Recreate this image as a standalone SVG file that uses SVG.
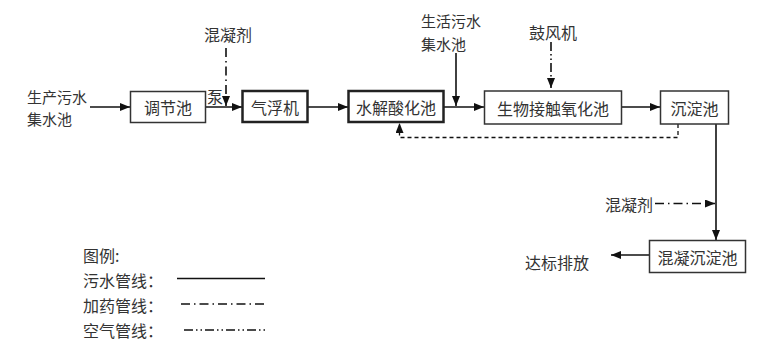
<svg xmlns="http://www.w3.org/2000/svg" width="781" height="352" viewBox="0 0 781 352">
<style>
text{font-family:"Noto Sans CJK SC","Noto Sans",sans-serif;font-size:16px;fill:#333;dominant-baseline:central}
.s{font-size:15px}
.c{text-anchor:middle}
.box{fill:#fff;stroke:#333;stroke-width:1.5}
.thick{stroke-width:2.5;stroke:#222}
.ln{fill:none;stroke:#111;stroke-width:1.6}
.dd{fill:none;stroke:#111;stroke-width:1.6;stroke-dasharray:9 4 1.5 4}
.ddd{fill:none;stroke:#111;stroke-width:1.6;stroke-dasharray:9 3 1.5 3 1.5 3}
.ds{fill:none;stroke:#111;stroke-width:1.3;stroke-dasharray:4 3}
</style>
<defs>
<marker id="ah" viewBox="0 0 10 8" refX="10" refY="4" markerWidth="10" markerHeight="8" markerUnits="userSpaceOnUse" orient="auto">
<path d="M0,0 L10,4 L0,8 Z" fill="#111"/>
</marker>
</defs>
<g id="connectors">
<line class="ln" x1="90" y1="107" x2="130" y2="107" marker-end="url(#ah)"/>
<line class="ln" x1="205" y1="107" x2="242" y2="107" marker-end="url(#ah)"/>
<line class="dd" x1="226" y1="48" x2="226" y2="106" marker-end="url(#ah)"/>
<line class="ln" x1="308" y1="107" x2="348" y2="107" marker-end="url(#ah)"/>
<line class="ln" x1="456" y1="53" x2="456" y2="106" marker-end="url(#ah)"/>
<line class="ln" x1="443" y1="107" x2="484" y2="107" marker-end="url(#ah)"/>
<line class="ddd" x1="551" y1="42" x2="551" y2="88" marker-end="url(#ah)"/>
<line class="ln" x1="622" y1="107" x2="660" y2="107" marker-end="url(#ah)"/>
<path class="ds" d="M678,124 V137.5 H399.5 V123" marker-end="url(#ah)"/>
<line class="ln" x1="716" y1="124" x2="716" y2="240" marker-end="url(#ah)"/>
<line class="dd" x1="655" y1="203.5" x2="715" y2="203.5" marker-end="url(#ah)"/>
<line class="ln" x1="649" y1="255" x2="611" y2="255" marker-end="url(#ah)"/>
</g>
<g id="n-prod"><text class="s" x="27" y="96">生产污水</text><text class="s" x="27" y="118.5">集水池</text></g>
<g id="n-tiaojie"><rect class="box" x="130.5" y="91.5" width="75" height="31"/><text class="c" x="168" y="107">调节池</text></g>
<g id="n-hunning1"><text class="c" x="228" y="34">混凝剂</text></g>
<g id="n-beng"><text x="207" y="96">泵</text></g>
<g id="n-qifu"><rect class="box thick" x="242.5" y="91" width="65" height="31"/><text class="c" x="275" y="107">气浮机</text></g>
<g id="n-shuijie"><rect class="box thick" x="348.5" y="91" width="95" height="31"/><text class="c" x="396" y="107">水解酸化池</text></g>
<g id="n-life"><text class="s" x="421" y="20.5">生活污水</text><text class="s" x="421" y="43">集水池</text></g>
<g id="n-gufeng"><text class="c" x="553" y="31.5">鼓风机</text></g>
<g id="n-shengwu"><rect class="box" x="484.5" y="91" width="137" height="33"/><text class="c" x="553" y="107.5">生物接触氧化池</text></g>
<g id="n-chendian"><rect class="box" x="660.5" y="91" width="68" height="33"/><text class="c" x="694.5" y="107.5">沉淀池</text></g>
<g id="n-hunning2"><text x="605" y="203.5">混凝剂</text></g>
<g id="n-hncd"><rect class="box" x="649.5" y="240.5" width="96" height="32"/><text class="c" x="697.5" y="256.5">混凝沉淀池</text></g>
<g id="n-dabiao"><text x="525" y="261.5">达标排放</text></g>
<g id="legend">
<text x="83" y="255">图例:</text>
<text x="83" y="280">污水管线：</text>
<line class="ln" x1="177" y1="278.5" x2="265" y2="278.5" stroke-width="1.2"/>
<text x="83" y="305">加药管线：</text>
<line class="dd" x1="181" y1="304" x2="268" y2="304" stroke-width="1.2"/>
<text x="83" y="330">空气管线：</text>
<line class="ddd" x1="184" y1="330" x2="268" y2="330" stroke-width="1.2"/>
</g>
</svg>
